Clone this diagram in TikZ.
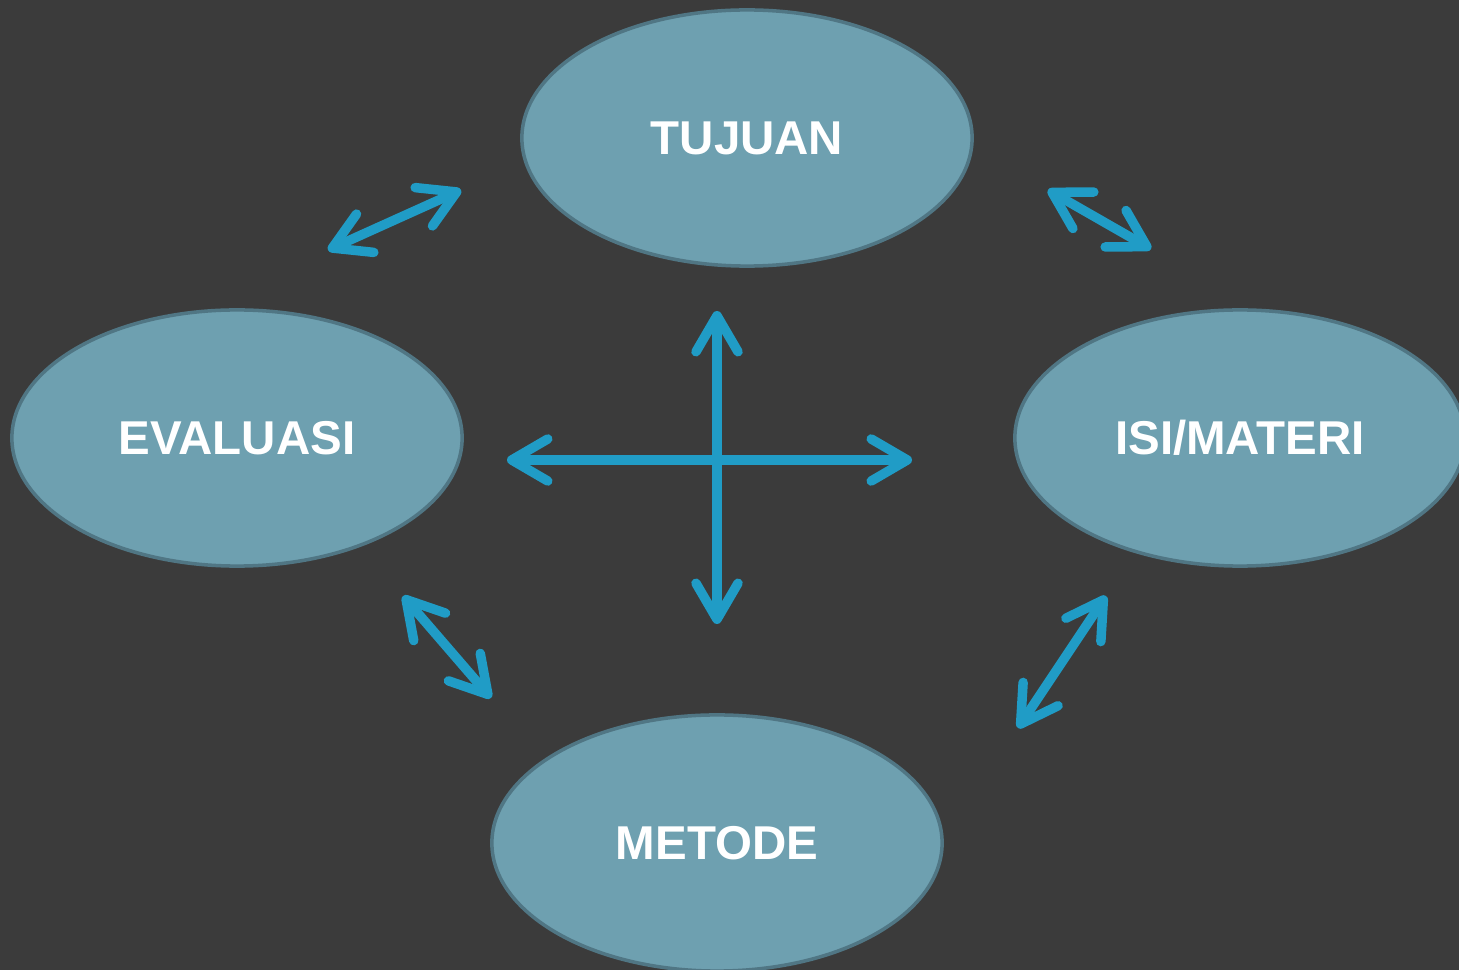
\documentclass[tikz,border=0pt]{standalone}
\usepackage{fontspec}
\setmainfont{Liberation Sans}
\usetikzlibrary{shapes.geometric,arrows.meta}
\definecolor{bgcolor}{RGB}{59,59,59}
\definecolor{fillblue}{RGB}{110,160,176}
\definecolor{rimblue}{RGB}{80,118,132}
\definecolor{arrowblue}{RGB}{32,156,198}
\begin{document}
\begin{tikzpicture}[x=0.01cm,y=-0.01cm]
  \tikzstyle{bubble}=[ellipse,draw=rimblue,line width=1pt,fill=fillblue,minimum width=4.5cm,minimum height=2.56cm,text=white,font=\bfseries\fontsize{13.5}{16}\selectfont]
  \tikzstyle{link}=[draw=arrowblue,line width=2.7pt,>={Straight Barb[length=0.36cm,width=0.42cm,round]},<->]
  \fill[bgcolor] (0,0) rectangle (1459,970);
  \useasboundingbox (0,0) rectangle (1459,970);
  \node[bubble] (tujuan)   at (747,138)  {TUJUAN};
  \node[bubble] (evaluasi) at (237,438)  {EVALUASI};
  \node[bubble] (materi)   at (1240,438) {ISI/MATERI};
  \node[bubble] (metode)   at (717,843)  {METODE};
  % diagonal arrows
  \coordinate (evtjA) at (328,250);
  \coordinate (evtjB) at (461,190);
  \coordinate (tjimA) at (1048,190);
  \coordinate (tjimB) at (1151,249);
  \coordinate (evmtA) at (403,596);
  \coordinate (evmtB) at (491,698);
  \coordinate (immtA) at (1106,596);
  \coordinate (immtB) at (1018,728);
  \draw[link] (evtjA) -- (evtjB);
  \draw[link] (tjimA) -- (tjimB);
  \draw[link] (evmtA) -- (evmtB);
  \draw[link] (immtA) -- (immtB);
  % cross
  \coordinate (crossW) at (507,460);
  \coordinate (crossE) at (912,460);
  \coordinate (crossN) at (717,311);
  \coordinate (crossS) at (717,624);
  \draw[link] (crossW) -- (crossE);
  \draw[link] (crossN) -- (crossS);
\end{tikzpicture}
\end{document}
